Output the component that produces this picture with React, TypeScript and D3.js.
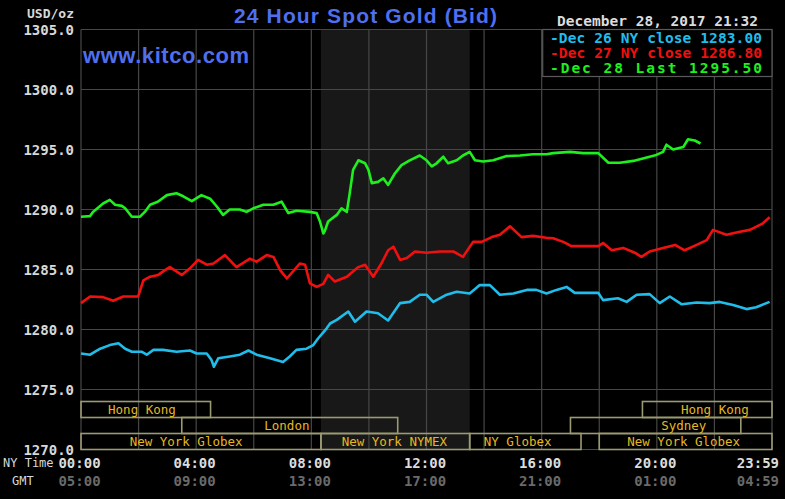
import React, { useEffect } from "react";
import * as d3 from "d3";

// ---------- DATA ----------
const yTicks = [1270, 1275, 1280, 1285, 1290, 1295, 1300, 1305];
const nyTimeLabels = ["00:00", "04:00", "08:00", "12:00", "16:00", "20:00", "23:59"];
const gmtLabels = ["05:00", "09:00", "13:00", "17:00", "21:00", "01:00", "04:59"];
const labelMinutes = [0, 240, 480, 720, 960, 1200, 1439];
const gridMinutes = [0, 120, 240, 360, 480, 600, 720, 840, 960, 1080, 1200, 1320, 1440];

const legendLabels = ["Dec 26 NY close 1283.00", "Dec 27 NY close 1286.80", "Dec 28 Last 1295.50"];
const seriesColors = ["#20bdea", "#f01010", "#1ef01e"];

// [minute of NY day, price]
const dec26: [number, number][] = [
  [0, 1278.0], [19, 1277.9], [40, 1278.4], [60, 1278.7], [78, 1278.85], [92, 1278.4], [106, 1278.15],
  [126, 1278.15], [137, 1277.9], [151, 1278.3], [171, 1278.3], [199, 1278.15], [227, 1278.25], [241, 1278.0],
  [262, 1278.0], [272, 1277.45], [277, 1276.9], [286, 1277.6], [310, 1277.75], [331, 1277.9], [349, 1278.25],
  [366, 1277.9], [394, 1277.6], [421, 1277.3], [435, 1277.75], [449, 1278.3], [470, 1278.4], [484, 1278.7],
  [494, 1279.25], [512, 1280.1], [519, 1280.5], [533, 1280.8], [557, 1281.5], [571, 1280.65], [595, 1281.5],
  [619, 1281.35], [640, 1280.75], [665, 1282.2], [685, 1282.3], [706, 1282.9], [720, 1282.9], [734, 1282.3],
  [762, 1282.9], [783, 1283.15], [810, 1283.0], [831, 1283.7], [852, 1283.7], [873, 1282.9], [901, 1283.0],
  [929, 1283.3], [949, 1283.3], [970, 1283.0], [991, 1283.3], [1012, 1283.55], [1029, 1283.05], [1054, 1283.05],
  [1078, 1283.05], [1088, 1282.45], [1119, 1282.6], [1137, 1282.3], [1158, 1282.9], [1185, 1282.95], [1206, 1282.2],
  [1227, 1282.75], [1252, 1282.1], [1283, 1282.25], [1310, 1282.2], [1331, 1282.3], [1359, 1282.05], [1387, 1281.7],
  [1407, 1281.85], [1435, 1282.3],
];

const dec27: [number, number][] = [
  [0, 1282.2], [19, 1282.75], [46, 1282.7], [67, 1282.4], [88, 1282.75], [119, 1282.75], [130, 1284.1],
  [144, 1284.4], [161, 1284.55], [175, 1284.95], [185, 1285.2], [210, 1284.55], [227, 1285.1], [244, 1285.8],
  [262, 1285.4], [276, 1285.5], [300, 1286.2], [324, 1285.2], [352, 1285.9], [366, 1285.65], [387, 1286.2],
  [401, 1286.05], [415, 1284.95], [429, 1284.25], [456, 1285.5], [467, 1285.4], [477, 1283.85], [491, 1283.55],
  [505, 1283.8], [515, 1284.55], [529, 1284.0], [554, 1284.4], [578, 1285.2], [592, 1285.4], [609, 1284.4],
  [626, 1285.5], [640, 1286.6], [651, 1286.9], [665, 1285.8], [679, 1285.95], [696, 1286.5], [720, 1286.4],
  [748, 1286.5], [776, 1286.5], [796, 1286.05], [817, 1287.3], [835, 1287.3], [856, 1287.7], [873, 1287.9],
  [894, 1288.6], [918, 1287.7], [942, 1287.8], [970, 1287.65], [984, 1287.6], [1005, 1287.3], [1022, 1286.95],
  [1050, 1286.95], [1078, 1286.95], [1088, 1287.2], [1106, 1286.6], [1130, 1286.8], [1154, 1286.4], [1168, 1286.05],
  [1185, 1286.5], [1213, 1286.8], [1238, 1287.05], [1258, 1286.6], [1283, 1287.05], [1304, 1287.45], [1317, 1288.3],
  [1345, 1287.9], [1373, 1288.15], [1394, 1288.3], [1421, 1288.85], [1435, 1289.35],
];

const dec28: [number, number][] = [
  [0, 1289.4], [19, 1289.45], [25, 1289.8], [46, 1290.5], [60, 1290.8], [71, 1290.4], [85, 1290.3],
  [92, 1290.1], [106, 1289.4], [123, 1289.4], [133, 1289.8], [144, 1290.4], [160, 1290.65], [179, 1291.2],
  [199, 1291.35], [213, 1291.1], [231, 1290.7], [251, 1291.2], [269, 1290.9], [283, 1290.25], [296, 1289.55],
  [310, 1290.0], [331, 1290.0], [345, 1289.8], [359, 1290.1], [380, 1290.4], [401, 1290.4], [418, 1290.65],
  [432, 1289.7], [449, 1289.9], [477, 1289.8], [491, 1289.7], [498, 1289.0], [505, 1288.0], [508, 1288.2],
  [515, 1289.0], [533, 1289.55], [543, 1290.1], [554, 1289.8], [560, 1291.35], [567, 1293.3], [578, 1294.1],
  [592, 1293.85], [599, 1293.3], [606, 1292.2], [619, 1292.3], [630, 1292.6], [640, 1292.05], [654, 1293.0],
  [668, 1293.7], [685, 1294.1], [706, 1294.5], [720, 1294.1], [731, 1293.6], [741, 1293.85], [755, 1294.4],
  [765, 1293.85], [783, 1294.1], [796, 1294.5], [810, 1294.8], [821, 1294.1], [838, 1294.0], [859, 1294.1],
  [887, 1294.45], [915, 1294.5], [942, 1294.6], [970, 1294.6], [984, 1294.7], [1019, 1294.8], [1046, 1294.7],
  [1078, 1294.7], [1099, 1293.9], [1123, 1293.9], [1151, 1294.05], [1171, 1294.25], [1199, 1294.55], [1213, 1294.8],
  [1220, 1295.4], [1234, 1295.0], [1255, 1295.2], [1265, 1295.85], [1279, 1295.75], [1291, 1295.5],
];

// Trading sessions (minutes of NY day)
const sessionNames = ["Hong Kong", "Hong Kong", "London", "Sydney", "New York Globex", "New York NYMEX", "NY Globex", "New York Globex"];
const sessionRows = [0, 0, 1, 1, 2, 2, 2, 2];
const sessionStart = [0, 1170, 210, 1020, 0, 500, 810, 1080];
const sessionEnd = [270, 1440, 660, 1375, 500, 810, 1042, 1440];
const sessionLabelAt = [127, 1321, 429, 1256, 219, 653, 910, 1256];

const nymexShade = [500, 810];

// ---------- CHART ----------
const W = 785;
const H = 499;
const MONO = "'DejaVu Sans Mono', 'Liberation Mono', monospace";
const SANS = "'Liberation Sans', Arial, sans-serif";

export default function App() {
  useEffect(() => {
    document.body.style.margin = "0";
    document.body.style.background = "#000";
  }, []);

  const x = d3.scaleLinear().domain([0, 1440]).range([81, 772]);
  const y = d3.scaleLinear().domain([1270, 1305]).range([449.5, 29.5]);
  const line = d3
    .line<[number, number]>()
    .x((d) => x(d[0]))
    .y((d) => y(d[1]))
    .curve(d3.curveLinear);

  const series = [dec26, dec27, dec28];
  const rowH = 16;
  const rowTop = (r: number) => y(1270) - (3 - r) * rowH;

  const gridColor = "#474747";

  return (
    <div style={{ position: "absolute", left: 0, top: 0, width: W, height: H, background: "#000" }}>
      <svg width={W} height={H} style={{ display: "block", background: "#000" }}>
        <rect x={0} y={0} width={W} height={H} fill="#000" />
        {/* NYMEX shaded hours */}
        <rect
          x={x(nymexShade[0])}
          y={y(1305)}
          width={x(nymexShade[1]) - x(nymexShade[0])}
          height={y(1270) - y(1305)}
          fill="#171817"
        />
        {/* grid */}
        {yTicks.map((t) => (
          <line key={"gy" + t} x1={x(0)} x2={x(1440)} y1={y(t)} y2={y(t)} stroke={gridColor} strokeWidth={1.2} />
        ))}
        {gridMinutes.map((m) => (
          <line key={"gx" + m} x1={x(m)} x2={x(m)} y1={y(1305)} y2={y(1270)} stroke={gridColor} strokeWidth={1.2} />
        ))}

        {/* sessions */}
        {sessionNames.map((name, i) => {
          const top = rowTop(sessionRows[i]);
          const x0 = x(sessionStart[i]);
          const x1 = x(sessionEnd[i]);
          return (
            <g key={"s" + i}>
              <rect x={x0} y={top} width={x1 - x0} height={rowH} fill="none" stroke="#9c9a72" strokeWidth={1.6} />
              <text
                x={x(sessionLabelAt[i])}
                y={top + rowH / 2 + 4.5}
                fill="#e6b820"
                fontFamily={MONO}
                fontSize={12.5}
                textAnchor="middle"
              >
                {name}
              </text>
            </g>
          );
        })}

        {/* series */}
        {series.map((s, i) => (
          <path key={"l" + i} d={line(s) || ""} fill="none" stroke={seriesColors[i]} strokeWidth={2.6} strokeLinejoin="round" />
        ))}

        {/* y tick labels */}
        {yTicks.map((t) => (
          <text
            key={"yl" + t}
            x={74}
            y={y(t) + 5}
            fill="#d8d8d8"
            fontFamily={MONO}
            fontWeight="bold"
            fontSize={14}
            textAnchor="end"
          >
            {t.toFixed(1)}
          </text>
        ))}
        <text x={74} y={17.5} fill="#d8d8d8" fontFamily={MONO} fontWeight="bold" fontSize={13} textAnchor="end">
          USD/oz
        </text>

        {/* x labels */}
        {labelMinutes.map((m, i) => {
          const last = i === labelMinutes.length - 1;
          const px = last ? W - 6 : x(m) - 1.5;
          return (
            <g key={"xl" + m}>
              <text x={px} y={467.5} fill="#dcdcdc" fontFamily={MONO} fontWeight="bold" fontSize={14} textAnchor={last ? "end" : "middle"}>
                {nyTimeLabels[i]}
              </text>
              <text x={px} y={485.5} fill="#6a6a6a" fontFamily={MONO} fontWeight="bold" fontSize={14} textAnchor={last ? "end" : "middle"}>
                {gmtLabels[i]}
              </text>
            </g>
          );
        })}
        <text x={3} y={467} fill="#d8d8d8" fontFamily={MONO} fontSize={12}>
          NY Time
        </text>
        <text x={12} y={485} fill="#d8d8d8" fontFamily={MONO} fontSize={12}>
          GMT
        </text>

        {/* title */}
        <text x={234} y={23} fill="#4f6fee" fontFamily={SANS} fontWeight="bold" fontSize={21} textLength={263} lengthAdjust="spacing">
          24 Hour Spot Gold (Bid)
        </text>
        <text x={83} y={63} fill="#4f6fee" fontFamily={SANS} fontWeight="bold" fontSize={22} textLength={166} lengthAdjust="spacing">
          www.kitco.com
        </text>

        {/* date */}
        <text x={557} y={25.5} fill="#dcdcdc" fontFamily={MONO} fontWeight="bold" fontSize={14.5} textLength={201} lengthAdjust="spacing">
          December 28, 2017 21:32
        </text>

        {/* legend */}
        <rect x={542.7} y={29.5} width={772 - 542.7} height={47} fill="#000" stroke="#5a5a5a" strokeWidth={1.2} />
        {legendLabels.map((lab, i) => (
          <text
            key={"lg" + i}
            x={550}
            y={42.5 + i * 15.2}
            fill={seriesColors[i]}
            fontFamily={MONO}
            fontWeight="bold"
            fontSize={14.5}
            textLength={212}
            lengthAdjust="spacing"
          >
            {"-" + lab}
          </text>
        ))}
      </svg>
    </div>
  );
}
